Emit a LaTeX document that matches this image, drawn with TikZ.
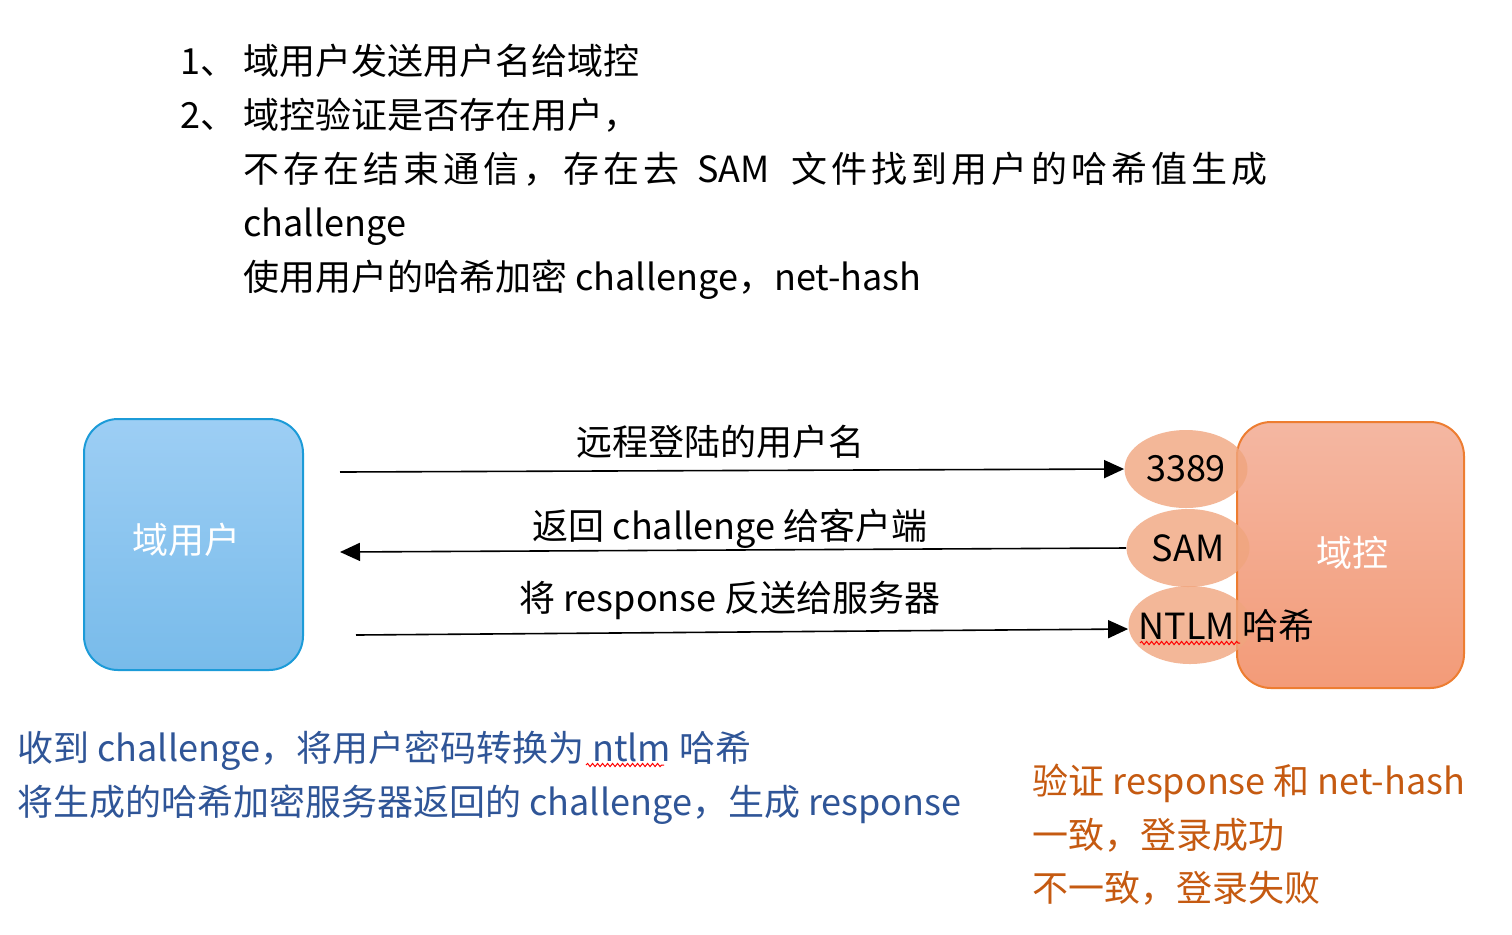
\documentclass[tikz,border=0pt]{standalone}
\usepackage{fontspec}
\setmainfont{Noto Sans CJK SC}
\usepackage{xcolor}
\usetikzlibrary{arrows.meta,positioning,shapes.geometric,decorations.pathmorphing}
\definecolor{userTop}{HTML}{9DCEF4}
\definecolor{userBot}{HTML}{78BBEA}
\definecolor{userLine}{HTML}{1C9BD8}
\definecolor{dcTop}{HTML}{F4B7A2}
\definecolor{dcBot}{HTML}{F39B78}
\definecolor{dcLine}{HTML}{ED7D31}
\definecolor{portFill}{HTML}{F0A57E}
\definecolor{noteBlue}{HTML}{2F5597}
\definecolor{noteOrange}{HTML}{C55A11}

\begin{document}
\begin{tikzpicture}[x=0.5pt, y=-0.5pt,
  step18/.style={anchor=base west, inner sep=0pt, font=\fontsize{18}{22}\selectfont},
  txt18/.style={inner sep=0pt, font=\fontsize{18}{22}\selectfont},
  host/.style={rectangle, rounded corners=17pt, line width=1pt, inner sep=0pt},
  port/.style={ellipse, fill=portFill, fill opacity=0.8, text opacity=1, inner sep=0pt, minimum width=61.5pt, minimum height=39pt, font=\fontsize{18}{22}\selectfont},
  arr/.style={-{Triangle[length=10pt,width=9pt]}, line width=0.8pt},
  spell/.style={red, line width=0.5pt, decorate, decoration={snake, segment length=2.5pt, amplitude=0.8pt}},
]
\useasboundingbox (0,0) rectangle (1512,934);

% steps at the top
\node[step18] (s1) at (180,74) {1、\hspace{3.5pt}域用户发送用户名给域控};
\node[step18] (s2) at (180,128) {2、\hspace{3.5pt}域控验证是否存在用户，};
\node[step18] (s2a) at (243,182) {\addfontfeature{LetterSpace=11}不存在结束通信，存在去\hspace{9pt}{\addfontfeature{LetterSpace=0}SAM}\hspace{11pt}文件找到用户的哈希值生成};
\node[step18] (s2b) at (243,236) {challenge};
\node[step18] (s2c) at (243,290) {使用用户的哈希加密 challenge，net-hash};

% hosts
\node[host, draw=userLine, top color=userTop, bottom color=userBot, minimum width=109.5pt, minimum height=125.5pt] (user) at (193.5,544.5) {};
\node[txt18, text=white] (userlbl) at (186,540) {域用户};
\node[host, draw=dcLine, top color=dcTop, bottom color=dcBot, minimum width=113.5pt, minimum height=133pt] (dc) at (1350.5,555) {};
\node[txt18, text=white] (dclbl) at (1352,553) {域控};

% ports on the domain controller
\node[port] (p3389) at (1186,469) {3389};
\node[port] (psam) at (1188,548) {SAM};
\node[port] (pntlm) at (1190,625) {};
\node[txt18, anchor=base west] (ntlm) at (1138,639) {NTLM 哈希};
\draw[spell] (1140,643) -- (1240,643);

% messages
\coordinate (m1) at (340,472);
\coordinate (m2) at (340,552);
\coordinate (m3) at (356,635);
\draw[arr] (m1) -- (p3389.west);
\draw[arr] (psam.west) -- (m2);
\draw[arr] (m3) -- ([yshift=-2pt]pntlm.west);
\node[txt18, anchor=base] (msg1) at (720,455) {远程登陆的用户名};
\node[txt18, anchor=base] (msg2) at (730,539) {返回 challenge 给客户端};
\node[txt18, anchor=base] (msg3) at (730,611) {将 response 反送给服务器};

% notes
\node[txt18, anchor=base west, text=noteBlue] (cli1) at (17,761) {收到 challenge，将用户密码转换为 ntlm 哈希};
\node[txt18, anchor=base west, text=noteBlue] (cli2) at (17,815) {将生成的哈希加密服务器返回的 challenge，生成 response};
\draw[spell] (586,765) -- (664,765);
\node[txt18, anchor=base west, text=noteOrange] (srv1) at (1032,794) {验证 response 和 net-hash};
\node[txt18, anchor=base west, text=noteOrange] (srv2) at (1032,848) {一致，登录成功};
\node[txt18, anchor=base west, text=noteOrange] (srv3) at (1032,901) {不一致，登录失败};
\end{tikzpicture}
\end{document}
